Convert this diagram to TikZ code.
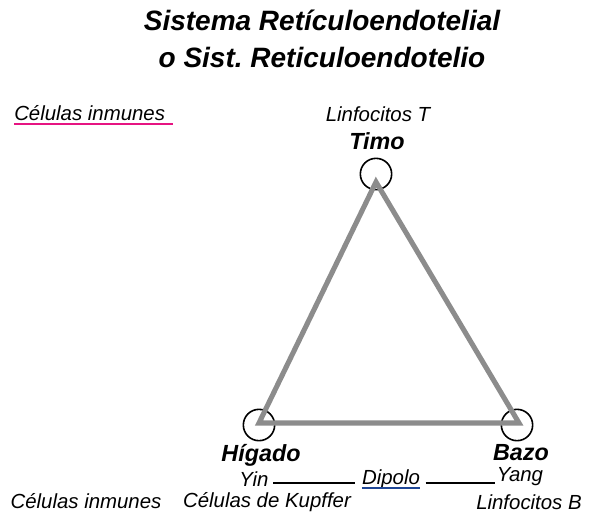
\documentclass[tikz,border=0pt]{standalone}
\usepackage{fontspec}
\setmainfont{Liberation Sans}
\frenchspacing
\begin{document}
\begin{tikzpicture}[x=0.75pt,y=-0.75pt,
  title/.style={font=\fontsize{21}{24}\selectfont\bfseries\itshape, align=center, inner sep=0pt},
  organ/.style={font=\fontsize{17.5}{20}\selectfont\bfseries\itshape, inner sep=0pt},
  lbl/.style={font=\fontsize{15.3}{17}\selectfont\itshape, inner sep=0pt},
  ring/.style={circle, draw=black, line width=1.2pt, minimum size=23.5pt, inner sep=0pt},
  tri/.style={draw=black!45, line width=3.8pt, line join=miter},
  thin/.style={draw=black, line width=1pt}]
\useasboundingbox (0,0) rectangle (597,512);
% title
\node[title] (t1) at (322,20) {Sistema Retículoendotelial};
\node[title] (t2) at (322,57) {o Sist. Reticuloendotelio};
% top left
\node[lbl, anchor=base west] (ci1) at (14,120) {Células inmunes};
\draw[draw={rgb,255:red,230;green,20;blue,130}, line width=1.6pt] ([yshift=-3pt]ci1.base west) -- ([xshift=6pt,yshift=-3pt]ci1.base east);
% Timo
\node[lbl] (lt) at (378,114) {Linfocitos T};
\node[organ] (timo) at (377,141) {Timo};
\node[ring] (ct) at (376,174) {};
% bottom circles
\node[ring] (ch) at (259,425) {};
\node[ring] (cb) at (517,425) {};
% triangle
\coordinate (vt) at (376,182);
\coordinate (vl) at (259,423);
\coordinate (vr) at (519,423);
\draw[tri] (vt) -- (vr) -- (vl) -- cycle;
% labels
\node[organ] (hig) at (261,455) {Hígado};
\node[organ] (bazo) at (521,453) {Bazo};
\node[lbl] (yin) at (254,479) {Yin};
\node[lbl] (dip) at (391,479) {Dipolo};
\node[lbl] (yang) at (520,477) {Yang};
\node[lbl] (ck) at (267,502) {Células de Kupffer};
\node[lbl] (lb) at (529,502) {Linfocitos B};
\node[lbl] (ci2) at (86,501) {Células inmunes};
\draw[draw={rgb,255:red,30;green,70;blue,150}, line width=1.2pt] ([yshift=-3pt]dip.base west) -- ([yshift=-3pt]dip.base east);
\coordinate (la) at (273,483);
\draw[thin] (la) -- ([xshift=-5pt]dip.west |- la);
\draw[thin] ([xshift=4pt]dip.east |- la) -- ([xshift=-1pt]yang.west |- la);
\end{tikzpicture}
\end{document}
